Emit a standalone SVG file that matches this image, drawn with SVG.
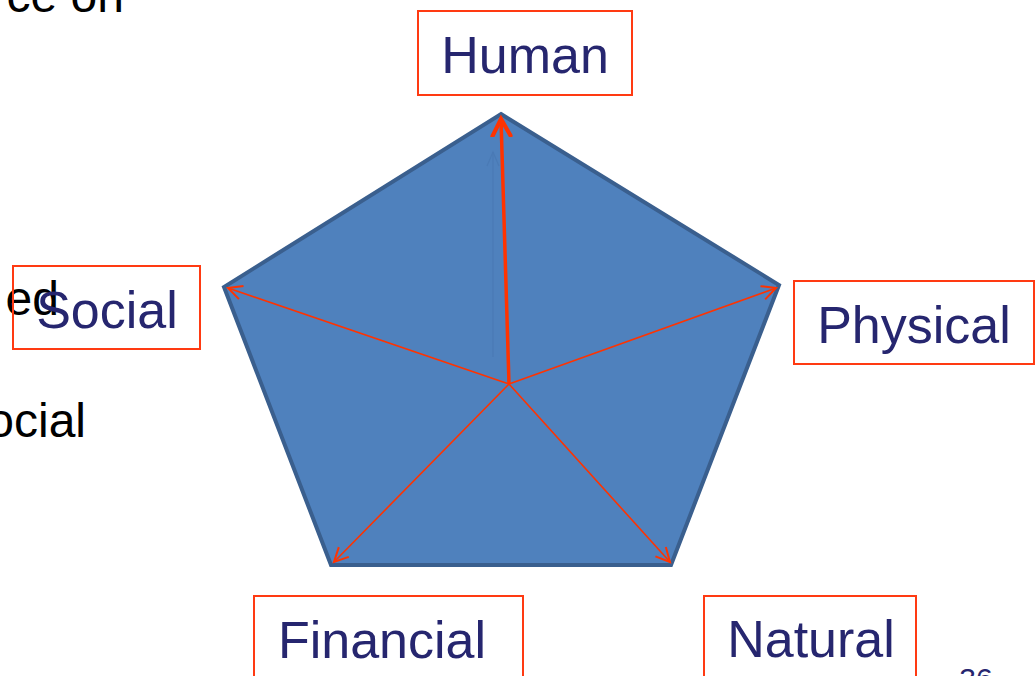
<svg xmlns="http://www.w3.org/2000/svg" width="1036" height="676" viewBox="0 0 1036 676">
<style>
.bg{font-family:"Liberation Sans",Arial,sans-serif;font-size:48px;fill:#000}
.box{fill:none;stroke:#ff3a12;stroke-width:2}
.lbl{font-family:"Liberation Sans",Arial,sans-serif;font-size:52px;fill:#26266f;text-anchor:middle}
.arr{stroke:#ff3300;stroke-width:1.6;fill:none;marker-end:url(#ah)}
</style>
<defs>
<marker id="ah" markerUnits="userSpaceOnUse" markerWidth="20" markerHeight="20" refX="15" refY="8" orient="auto" viewBox="0 0 20 16">
<path d="M1,1 L15,8 L1,15" fill="none" stroke="#ff3300" stroke-width="2"/>
</marker>
<marker id="ah2" markerUnits="userSpaceOnUse" markerWidth="24" markerHeight="24" refX="15" refY="9" orient="auto" viewBox="0 0 20 18">
<path d="M1,1.5 L15,9 L1,16.5" fill="none" stroke="#ff3300" stroke-width="3.5" stroke-linecap="round"/>
</marker>
</defs>
<rect width="1036" height="676" fill="#fff"/>
<text class="bg" x="124" y="12" text-anchor="end">ce on</text>
<text class="bg" x="59" y="315" text-anchor="end">ed</text>
<text class="bg" x="86" y="437" text-anchor="end">ocial</text>
<g id="pentagon">
<polygon points="501,114 779,285 671,565 331,565 224,287" fill="#4f81bd" stroke="#3a5f8e" stroke-width="4" stroke-linejoin="miter"/>
</g>
<g id="connectors">
<line x1="493" y1="357" x2="493" y2="152" stroke="#4a7ab5" stroke-width="1.2"/>
<path d="M487,166 L493,152 L499,166" fill="none" stroke="#4a7ab5" stroke-width="1.2"/>
<line x1="509" y1="384" x2="501" y2="119" stroke="#ff3300" stroke-width="3.5" marker-end="url(#ah2)"/>
<line class="arr" x1="509" y1="384" x2="228" y2="288"/>
<line class="arr" x1="509" y1="384" x2="776" y2="288"/>
<line class="arr" x1="509" y1="384" x2="334" y2="562"/>
<line class="arr" x1="509" y1="384" x2="670" y2="562"/>
</g>
<g id="human">
<rect class="box" x="418" y="11" width="214" height="84"/>
<text class="lbl" x="525" y="73">Human</text>
</g>
<g id="social">
<rect class="box" x="13" y="266" width="187" height="83"/>
<text class="lbl" x="107" y="328">Social</text>
</g>
<g id="physical">
<rect class="box" x="794" y="281" width="240" height="83"/>
<text class="lbl" x="914" y="343">Physical</text>
</g>
<g id="financial">
<rect class="box" x="254" y="596" width="269" height="100"/>
<text class="lbl" x="382" y="658">Financial</text>
</g>
<g id="natural">
<rect class="box" x="704" y="596" width="212" height="100"/>
<text class="lbl" x="811" y="657">Natural</text>
</g>
<text x="976" y="689" font-family="Liberation Sans,Arial,sans-serif" font-size="30" fill="#26266f" text-anchor="middle">36</text>
</svg>
